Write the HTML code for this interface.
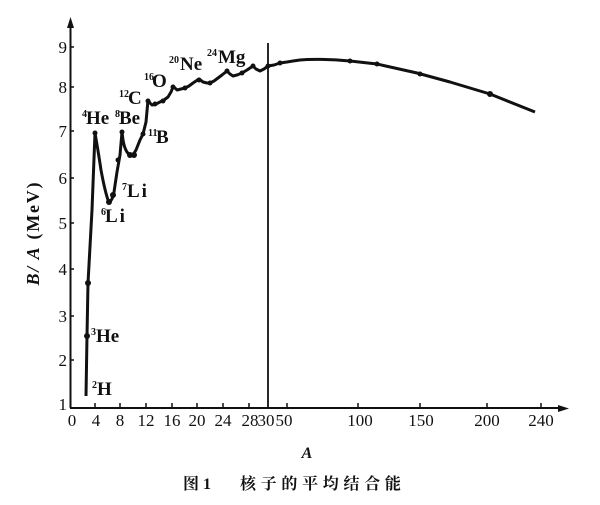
<!DOCTYPE html>
<html><head><meta charset="utf-8"><style>
html,body{margin:0;padding:0;background:#fff;}
svg{display:block;}
</style></head><body>
<svg width="600" height="505" viewBox="0 0 600 505" xmlns="http://www.w3.org/2000/svg">
<rect width="600" height="505" fill="#fff"/>
<g stroke="#111" fill="none" stroke-width="2">
<line x1="70.5" y1="408" x2="70.5" y2="24"/>
<line x1="70" y1="408" x2="562" y2="408"/>
<line x1="268" y1="43" x2="268" y2="408" stroke-width="1.8"/>
</g>
<polygon points="70.5,17 67,28 74,28" fill="#111"/>
<polygon points="569,408.5 558,405 558,412" fill="#111"/>
<g stroke="#111" stroke-width="1.5">
<line x1="70" y1="47" x2="74" y2="47"/><line x1="70" y1="87" x2="74" y2="87"/>
<line x1="70" y1="131" x2="74" y2="131"/><line x1="70" y1="178" x2="74" y2="178"/>
<line x1="70" y1="223" x2="74" y2="223"/><line x1="70" y1="269" x2="74" y2="269"/>
<line x1="70" y1="316" x2="74" y2="316"/><line x1="70" y1="360" x2="74" y2="360"/>
<line x1="95" y1="403" x2="95" y2="408"/><line x1="120" y1="403" x2="120" y2="408"/>
<line x1="146" y1="403" x2="146" y2="408"/><line x1="172" y1="403" x2="172" y2="408"/>
<line x1="197" y1="403" x2="197" y2="408"/><line x1="223" y1="403" x2="223" y2="408"/>
<line x1="249" y1="403" x2="249" y2="408"/><line x1="287" y1="403" x2="287" y2="408"/>
<line x1="358" y1="403" x2="358" y2="408"/><line x1="420" y1="403" x2="420" y2="408"/>
<line x1="487" y1="403" x2="487" y2="408"/><line x1="541" y1="403" x2="541" y2="408"/>
</g>
<g font-family="Liberation Serif, serif" font-size="17" fill="#111" text-anchor="end">
<text x="67" y="53">9</text><text x="67" y="93">8</text><text x="67" y="137">7</text>
<text x="67" y="184">6</text><text x="67" y="229">5</text><text x="67" y="275">4</text>
<text x="67" y="322">3</text><text x="67" y="366">2</text><text x="67" y="410">1</text>
</g>
<g font-family="Liberation Serif, serif" font-size="17" fill="#111" text-anchor="middle">
<text x="72" y="426">0</text><text x="96" y="426">4</text><text x="120" y="426">8</text>
<text x="146" y="426">12</text><text x="172" y="426">16</text><text x="197" y="426">20</text>
<text x="223" y="426">24</text><text x="250" y="426">28</text><text x="266" y="426">30</text>
<text x="284" y="426">50</text><text x="360" y="426">100</text><text x="421" y="426">150</text>
<text x="487" y="426">200</text><text x="541" y="426">240</text>
</g>
<path d="M86,396 L87,336 L88,283 L92,210 L95,133 Q98,150 101,170 Q105,192 109,203 L112,199 L114,192 L117,172 L120,155 L122,132 L123,140 Q125,152 130,155 L133,155 L136,150 L140,140 L143,134 L146,122 L148,100 L150,103 L152,105 L156,104 L160,102 L164,100 L168,97 L171,92 L173,87 L175,88 L177,90 L181,89 L185,88 L189,86 L193,83 L196,81 L199,79 L203,82 L207,83 L210,83 L214,81 L218,78 L222,75 L227,71 L230,74 L233,76 L237,75 L242,73 L247,70 L253,66 L256,69 L260,71 L264,69 L268,66 L274,65 L280,63 L287,62 L293,61 L300,60 C310,59 330,59 350,61 L377,64 L417,73 L450,82 L490,94 L535,112" fill="none" stroke="#111" stroke-width="3" stroke-linejoin="round"/>
<g fill="#111">
<circle cx="87" cy="336" r="3"/><circle cx="88" cy="283" r="3"/><circle cx="95" cy="133" r="2.5"/>
<circle cx="109" cy="202" r="3"/><circle cx="113" cy="195" r="3"/><circle cx="118" cy="160" r="2.5"/>
<circle cx="122" cy="132" r="2.5"/><circle cx="130" cy="155" r="3"/><circle cx="134" cy="155" r="3"/>
<circle cx="143" cy="134" r="2.5"/><circle cx="148" cy="101" r="2.5"/><circle cx="155" cy="104" r="2.5"/>
<circle cx="163" cy="101" r="2.5"/><circle cx="173" cy="87" r="2.5"/><circle cx="185" cy="88" r="2.5"/>
<circle cx="199" cy="80" r="2.5"/><circle cx="210" cy="83" r="2.5"/><circle cx="227" cy="71" r="2.5"/>
<circle cx="242" cy="73" r="2.5"/><circle cx="253" cy="66" r="2.5"/><circle cx="268" cy="66" r="2.5"/>
<circle cx="280" cy="63" r="2.5"/><circle cx="350" cy="61" r="2.5"/><circle cx="377" cy="64" r="2.5"/>
<circle cx="420" cy="74" r="2.5"/><circle cx="490" cy="94" r="3"/>
</g>
<g font-family="Liberation Serif, serif" font-weight="bold" fill="#111">
<text x="82" y="117" font-size="10">4</text><text x="86" y="124" font-size="19">He</text>
<text x="115" y="117" font-size="10">8</text><text x="119" y="124" font-size="19">Be</text>
<text x="119" y="97" font-size="10">12</text><text x="128" y="104" font-size="19">C</text>
<text x="148" y="136" font-size="10">11</text><text x="156" y="143" font-size="19">B</text>
<text x="122" y="190" font-size="10">7</text><text x="127" y="197" font-size="19" letter-spacing="2">Li</text>
<text x="101" y="215" font-size="10">6</text><text x="105" y="222" font-size="19" letter-spacing="2">Li</text>
<text x="91" y="335" font-size="10">3</text><text x="96" y="342" font-size="19">He</text>
<text x="92" y="388" font-size="10">2</text><text x="97" y="395" font-size="19">H</text>
<text x="144" y="80" font-size="10">16</text><text x="152" y="87" font-size="19">O</text>
<text x="169" y="63" font-size="10">20</text><text x="180" y="70" font-size="19">Ne</text>
<text x="207" y="56" font-size="10">24</text><text x="218" y="63" font-size="19">Mg</text>
</g>
<text transform="translate(39,234) rotate(-90)" text-anchor="middle" font-family="Liberation Serif, serif" font-weight="bold" font-size="18" fill="#111" textLength="103" lengthAdjust="spacing"><tspan font-style="italic">B/ A</tspan> (MeV)</text>
<text x="307" y="458" text-anchor="middle" font-family="Liberation Serif, serif" font-weight="bold" font-style="italic" font-size="16" fill="#111">A</text>
<text x="183" y="489" font-family="'Liberation Serif','Noto Serif CJK SC',serif" font-weight="bold" font-size="16" fill="#111">图 1</text>
<text x="240" y="489" font-family="'Liberation Serif','Noto Serif CJK SC',serif" font-weight="bold" font-size="16" fill="#111" letter-spacing="4.7">核子的平均结合能</text>
</svg>
</body></html>
